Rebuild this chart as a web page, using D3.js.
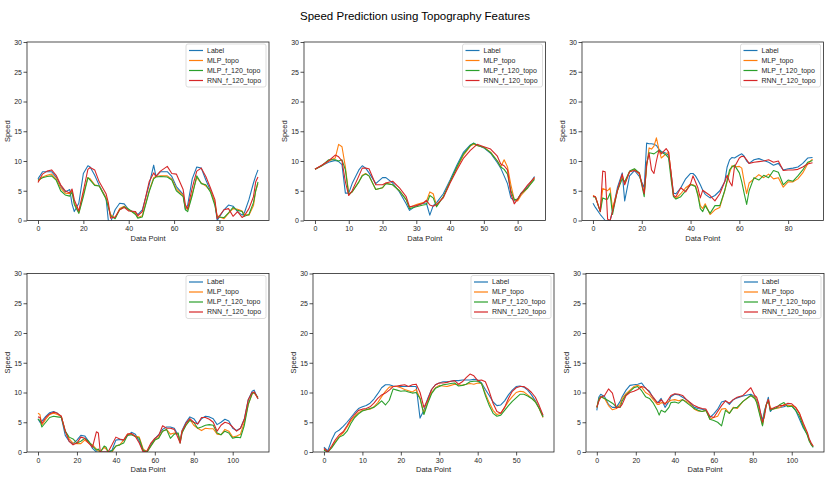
<!DOCTYPE html>
<html>
<head>
<meta charset="utf-8">
<script src="https://cdnjs.cloudflare.com/ajax/libs/d3/7.8.5/d3.min.js"></script>
<style>
  body { margin: 0; background: #fff; }
  text { font-family: "Liberation Sans", Arial, sans-serif; }
</style>
</head>
<body>
<svg id="chart" width="830" height="483"></svg>
<script>
/////// Data

var seriesNames = ['Label', 'MLP_topo', 'MLP_f_120_topo', 'RNN_f_120_topo'];
var yTicks = [0, 5, 10, 15, 20, 25, 30];

// panel 1
var p1X = [0,2,4,6,8,10,12,14,15,16,18,20,22,23,25,27,30,31,32,34,36,38,40,43,44,46,49,51,52,54,57,59,61,64,65,66,68,70,72,74,76,78,79,82,84,86,88,90,91,93,95,96,97];
var p1Label = [7.0,8.2,8.2,8.2,7.3,5.8,4.8,5.2,2.8,1.5,2.9,7.9,9.2,9.0,7.6,5.9,3.8,0.0,-0.3,1.8,2.9,2.8,1.8,1.3,1.0,1.8,6.0,9.3,7.4,8.2,8.2,7.4,5.7,4.4,1.8,2.6,7.0,9.0,8.8,6.8,5.1,2.9,0.0,1.8,2.6,2.4,1.5,0.9,1.3,3.5,6.3,7.5,8.5];
var p1Mlp = [6.6,7.3,7.6,7.8,7.0,5.5,4.6,4.5,5.0,3.0,1.3,4.5,7.2,7.0,6.0,5.8,3.8,2.5,1.0,0.4,2.0,2.4,1.8,1.2,0.5,0.8,5.0,7.2,7.4,7.5,7.5,7.0,5.3,4.2,2.2,1.8,4.5,7.2,6.3,5.8,5.0,3.0,0.8,0.3,1.2,2.0,1.9,1.6,1.0,0.9,2.5,5.0,6.2];
var p1MlpF = [6.8,7.2,7.4,7.5,6.8,5.0,4.3,4.1,4.8,2.7,1.2,4.0,7.2,6.8,5.9,5.8,3.6,2.2,0.8,0.3,1.8,2.3,1.9,1.0,0.4,0.6,4.8,7.0,7.3,7.4,7.3,6.8,5.0,4.0,1.8,1.5,4.2,7.5,6.2,6.0,4.8,2.5,0.6,0.5,1.3,2.2,1.7,1.5,0.7,1.0,3.0,5.0,6.5];
var p1Rnn = [6.4,7.8,8.3,8.5,7.6,6.0,5.0,4.6,5.3,3.5,1.6,5.0,8.6,8.9,8.5,6.5,4.5,3.0,0.4,0.6,1.8,2.2,1.6,1.5,0.8,1.5,6.5,8.0,7.4,8.3,9.1,7.9,7.8,5.2,2.6,2.0,5.5,8.3,8.8,7.4,5.5,3.5,0.3,1.8,2.0,0.7,1.5,0.5,0.8,2.0,4.0,6.5,7.3];

// panel 2
var p2X = [0,2,4,6,7,8,9,10,11,13,14,15,16,18,20,21,23,25,27,28,30,32,33,34,35,36,38,40,42,44,46,47,48,50,52,54,55,56,57,58,59,60,61,63,65];
var p2Label = [8.6,9.2,9.8,10.1,9.9,9.4,4.6,4.6,6.2,8.5,9.2,8.8,8.0,6.2,7.2,7.2,6.3,4.8,2.8,1.7,2.5,2.9,2.9,0.9,2.5,3.0,4.5,6.8,9.3,11.5,12.7,13.0,12.7,12.2,11.3,9.7,8.8,7.5,6.2,3.8,3.3,3.5,4.6,5.7,7.4];
var p2Mlp = [8.6,9.2,10.0,10.5,12.8,12.4,9.0,4.5,4.8,6.5,7.6,7.9,7.5,5.2,5.5,6.3,6.0,5.0,3.5,2.2,2.7,3.0,3.2,4.8,4.5,2.5,4.0,6.5,8.8,11.0,12.5,12.8,12.6,12.3,11.5,10.0,9.0,10.2,9.0,6.0,3.5,3.3,4.2,5.5,7.2];
var p2MlpF = [8.6,9.2,10.2,10.2,10.0,10.2,8.5,4.3,4.8,6.5,7.5,7.8,7.5,5.2,5.5,6.2,6.0,5.0,3.5,2.0,2.3,2.6,2.7,4.2,3.8,2.3,4.0,6.5,9.0,11.2,12.6,13.0,12.6,12.3,11.4,10.0,9.0,8.6,7.8,5.0,3.5,3.6,4.5,5.5,6.9];
var p2Rnn = [8.6,9.3,10.0,11.0,10.7,10.0,6.5,4.2,5.0,7.5,8.8,8.8,8.7,6.0,6.0,6.3,6.6,5.5,4.0,2.3,2.5,2.9,3.4,2.6,2.4,2.7,3.8,6.3,8.5,10.5,11.8,12.3,12.8,12.4,12.0,10.8,9.5,9.2,8.5,4.5,2.8,3.6,4.5,6.0,7.2];

// panel 3
var p3X = [0,1,3,4,5,6,7,8,10,12,13,15,17,19,21,22,23,24,25,26,27,28,30,31,32,33,34,36,38,40,41,42,43,44,45,46,48,50,52,54,55,56,57,58,60,61,62,63,64,66,68,70,72,74,76,78,80,82,84,86,88,90];
var p3Label = [2.9,2.2,1.0,0.5,0.0,0.0,0.0,1.5,5.5,8.0,3.3,7.5,8.4,7.4,5.5,13.0,12.9,12.9,12.8,12.6,12.0,11.6,11.3,10.9,8.0,4.6,4.5,5.5,7.0,7.9,7.9,7.5,6.8,6.0,5.1,4.4,3.8,4.2,5.0,6.5,9.0,10.2,10.6,10.5,11.0,11.2,10.8,10.0,9.6,10.2,10.4,10.1,9.8,9.3,9.6,8.5,8.7,8.8,9.0,9.6,10.5,10.6];
var p3Mlp = [4.2,4.0,1.5,5.4,5.2,5.0,5.5,2.0,5.0,7.5,6.2,8.2,8.6,7.8,4.5,9.0,12.2,12.0,12.5,13.9,12.0,10.5,11.2,11.5,8.0,4.2,3.7,4.5,5.5,6.1,6.0,5.8,4.5,2.5,2.0,2.8,1.0,1.8,2.2,5.0,6.5,8.0,9.2,9.0,9.1,8.8,6.5,4.5,6.3,7.0,7.7,7.2,7.8,7.0,7.2,5.6,6.5,6.5,7.0,8.0,9.5,10.3];
var p3MlpF = [4.0,3.9,1.5,3.8,3.6,3.6,4.6,1.0,5.0,7.0,6.5,8.3,8.7,8.0,4.0,9.5,11.4,11.3,11.2,11.5,11.8,11.5,11.0,10.5,7.0,4.0,3.6,4.0,5.0,6.0,5.9,5.7,4.2,2.0,1.5,2.5,1.2,2.5,2.5,5.0,6.8,8.5,9.0,9.3,8.0,6.5,4.5,2.7,5.0,7.2,6.8,7.6,7.2,8.4,8.1,6.0,6.8,6.6,7.5,8.5,9.8,10.1];
var p3Rnn = [4.1,4.0,1.5,8.3,8.2,0.2,0.0,1.5,5.0,7.8,6.0,8.2,8.4,8.0,4.5,9.5,11.3,8.5,7.9,10.0,11.8,11.2,12.1,11.5,8.0,4.2,4.0,5.5,4.8,6.2,7.5,6.5,5.5,3.8,5.1,4.8,4.2,3.3,4.5,6.5,7.6,6.5,5.8,9.0,10.5,10.8,10.7,10.2,9.6,9.8,9.9,10.0,10.2,9.8,10.0,8.4,8.5,8.5,8.6,9.0,9.5,9.7];

// panel 4
var p4X = [0,1,2,4,6,8,10,12,14,16,18,20,22,24,26,28,30,31,32,34,35,36,38,40,42,44,46,48,50,52,54,56,58,60,62,64,66,68,70,72,73,74,76,78,80,82,84,86,88,90,92,94,96,98,100,102,104,106,108,110,111,113];
var p4Label = [5.6,5.0,5.2,6.0,6.6,6.8,6.5,5.8,2.8,1.8,1.4,2.0,2.8,2.7,1.8,0.6,0.0,0.0,0.0,0.0,0.0,0.0,0.3,2.0,2.1,2.0,2.8,3.3,3.0,1.8,0.2,0.0,1.2,2.2,2.9,3.8,4.2,4.2,4.0,2.8,2.0,3.6,5.0,5.9,5.6,4.7,5.6,6.0,5.9,5.6,4.6,5.0,5.5,5.2,4.0,3.6,4.0,5.6,8.8,10.2,10.4,8.9];
var p4Mlp = [6.5,6.3,4.5,5.5,6.3,6.5,6.3,6.0,3.5,2.2,1.5,1.4,1.4,2.0,1.5,1.2,0.5,0.2,0.0,0.8,0.5,0.0,0.0,1.0,1.2,2.0,3.0,3.0,2.7,2.5,0.5,0.0,1.0,2.0,2.5,3.5,3.8,3.0,3.2,3.0,1.8,3.5,4.5,5.5,4.5,4.0,3.6,4.0,3.9,3.9,3.0,2.9,3.8,3.5,2.5,2.7,3.0,5.0,8.0,9.8,10.0,9.0];
var p4MlpF = [5.5,5.3,4.2,5.0,5.8,6.0,5.9,5.8,3.5,2.5,2.2,1.5,1.8,2.3,1.8,1.0,0.3,0.5,0.0,1.0,0.8,0.0,0.2,1.0,1.2,1.5,2.8,2.9,2.6,2.3,0.3,0.0,1.0,2.0,2.3,3.5,3.8,2.3,3.0,3.2,1.5,3.2,4.5,5.3,5.0,4.0,4.2,4.5,4.6,4.5,3.2,2.9,3.5,3.2,2.3,2.5,2.4,4.5,8.0,9.8,10.0,9.2];
var p4Rnn = [5.9,5.8,4.8,5.8,6.4,6.7,6.5,6.0,3.5,1.8,1.2,1.5,2.5,2.3,1.5,0.8,3.4,3.2,0.0,0.0,0.0,0.0,1.2,2.5,2.2,2.0,3.0,3.1,2.6,1.5,0.0,0.2,1.5,2.3,2.8,4.4,4.0,4.0,3.8,2.3,1.5,3.5,4.8,5.6,5.0,4.7,5.8,5.8,5.5,5.0,3.5,4.5,5.0,4.8,4.2,3.5,4.0,5.5,8.8,10.0,10.1,9.0];

// panel 5
var p5X = [0,1,2,3,4,5,6,7,8,9,10,11,12,13,14,15,16,17,18,19,20,21,22,23,24,25,26,27,28,29,30,31,32,33,34,35,36,37,38,39,40,41,42,43,44,45,46,47,48,49,50,51,52,53,54,55,56,57];
var p5Label = [0.8,0.2,2.0,3.3,3.7,4.3,5.0,5.8,6.6,7.3,7.6,7.8,8.2,8.9,9.8,10.8,11.3,11.3,11.1,11.0,11.0,11.0,11.0,11.0,11.0,5.7,7.0,9.0,10.5,11.3,11.6,11.8,11.8,11.9,12.0,12.0,12.1,12.1,12.1,12.2,12.1,11.6,10.5,9.5,8.4,7.8,7.9,8.6,9.6,10.4,11.0,11.1,10.9,10.4,9.6,8.6,7.4,6.0];
var p5Mlp = [0.5,0.0,0.8,1.8,2.6,3.2,4.2,5.2,6.0,6.6,7.0,7.1,7.2,7.6,8.3,9.3,10.2,10.9,11.0,11.0,10.8,10.5,10.3,10.1,10.5,9.0,6.5,8.5,10.0,10.8,11.2,11.1,11.0,11.2,11.4,11.3,11.2,11.4,11.5,11.4,11.6,11.5,9.8,8.3,7.0,6.3,6.5,7.5,8.5,9.3,10.0,10.2,10.1,9.6,9.1,8.5,7.3,5.8];
var p5MlpF = [0.3,0.0,0.7,1.6,2.5,2.8,3.5,4.8,5.8,6.4,6.9,7.1,7.3,7.5,8.0,8.6,7.9,8.7,10.6,10.4,10.2,10.3,10.1,9.9,10.0,9.0,6.3,8.2,9.8,10.7,11.0,11.3,11.4,11.5,11.6,11.1,11.2,11.4,11.8,11.9,11.9,11.5,9.5,7.8,6.5,6.0,6.2,7.0,7.8,8.5,9.1,9.7,9.7,9.4,9.0,8.4,7.3,5.9];
var p5Rnn = [0.6,0.0,1.0,2.1,2.9,3.4,4.4,5.5,6.3,7.0,7.2,7.3,7.6,8.2,9.0,9.6,9.9,10.4,11.0,11.1,11.2,11.3,11.0,11.3,11.4,10.0,7.5,8.8,10.5,11.3,11.6,11.6,11.7,11.9,12.0,11.4,11.8,12.5,13.1,12.8,12.0,12.1,11.8,10.2,8.2,6.8,6.5,7.5,9.0,10.2,10.8,11.0,11.0,10.6,10.0,9.2,7.8,6.2];

// panel 6
var p6X = [0,1,2,4,6,8,10,12,13,15,17,19,21,23,25,27,29,31,32,33,35,37,38,40,42,44,46,48,50,52,54,56,58,60,62,64,66,68,70,72,75,79,81,82,83,85,86,87,88,89,90,92,94,96,98,100,102,104,106,108,109,110,111];
var p6Label = [7.0,9.2,9.7,9.3,8.0,7.5,7.5,8.5,9.3,10.4,11.2,11.3,11.4,11.6,10.7,10.2,9.0,8.3,8.6,9.0,7.5,8.5,9.3,9.7,9.6,9.2,8.8,8.2,7.5,7.3,7.2,7.0,5.8,6.4,7.2,8.4,8.6,8.0,8.8,9.1,9.4,9.7,9.3,8.7,7.8,5.3,7.0,8.0,9.2,6.8,7.2,7.4,7.5,7.6,7.9,7.8,7.0,5.5,4.0,3.0,2.0,1.3,0.8];
var p6Mlp = [7.5,8.8,9.3,9.0,7.8,7.1,7.3,8.0,9.0,9.8,10.4,11.0,11.2,10.9,10.0,9.6,8.8,8.0,8.0,8.3,8.2,8.5,8.7,8.8,8.6,8.8,8.5,8.0,7.2,6.9,6.8,7.0,5.5,5.8,6.0,7.2,7.3,6.5,7.5,7.3,8.5,9.5,9.2,8.5,7.3,4.5,6.5,8.0,8.8,7.5,7.2,7.3,7.5,8.0,7.8,7.8,7.5,6.5,4.5,3.0,2.0,1.3,0.9];
var p6MlpF = [7.5,8.8,9.3,9.0,8.6,8.2,7.6,7.5,8.6,9.6,10.2,10.8,11.0,10.3,9.3,9.0,8.2,7.0,6.2,7.0,6.7,7.5,8.3,8.4,8.2,8.8,8.3,7.8,7.3,7.0,6.8,7.0,5.5,5.3,5.0,4.4,7.0,6.5,7.4,7.5,8.5,9.5,9.0,8.3,7.0,4.4,6.5,8.0,8.6,7.0,7.2,7.4,8.0,8.3,7.6,7.7,7.0,6.0,4.2,2.8,1.8,1.2,0.8];
var p6Rnn = [7.5,8.5,9.2,9.5,10.6,9.9,7.4,7.6,8.0,9.5,10.0,10.2,10.5,11.0,10.8,10.0,9.2,8.3,8.3,8.8,8.0,9.0,9.5,9.8,9.7,9.5,8.8,8.3,7.8,7.5,7.3,7.2,6.0,5.8,6.8,7.8,8.6,8.2,8.8,9.2,9.5,10.8,9.5,9.2,8.2,5.0,6.0,8.0,8.8,7.2,7.3,7.6,7.8,7.8,8.2,8.1,7.5,6.5,4.8,3.3,2.2,1.5,1.0];

/////// Layout

var colors = ['#1f77b4', '#ff7f0e', '#2ca02c', '#d62728'];
var ink = '#262626';

// [left, top, right, bottom] of each axes box, in pixels
var panels = [
  { x: p1X, ys: [p1Label, p1Mlp, p1MlpF, p1Rnn], box: [27, 42, 269, 220.5], xTicks: [0, 20, 40, 60, 80] },
  { x: p2X, ys: [p2Label, p2Mlp, p2MlpF, p2Rnn], box: [304, 42, 545.5, 220.5], xTicks: [0, 10, 20, 30, 40, 50, 60] },
  { x: p3X, ys: [p3Label, p3Mlp, p3MlpF, p3Rnn], box: [582, 42, 823.5, 220.5], xTicks: [0, 20, 40, 60, 80] },
  { x: p4X, ys: [p4Label, p4Mlp, p4MlpF, p4Rnn], box: [27, 273.5, 269, 452], xTicks: [0, 20, 40, 60, 80, 100] },
  { x: p5X, ys: [p5Label, p5Mlp, p5MlpF, p5Rnn], box: [313, 273.5, 554, 452], xTicks: [0, 10, 20, 30, 40, 50] },
  { x: p6X, ys: [p6Label, p6Mlp, p6MlpF, p6Rnn], box: [586, 273.5, 824, 452], xTicks: [0, 20, 40, 60, 80, 100] }
];

var svg = d3.select('#chart');

svg.append('text')
    .attr('x', 415)
    .attr('y', 19.5)
    .attr('text-anchor', 'middle')
    .attr('font-size', '11.5px')
    .attr('fill', '#000')
    .text('Speed Prediction using Topography Features');

panels.forEach(function (p, i) {
  var l = p.box[0], t = p.box[1], r = p.box[2], b = p.box[3];

  // matplotlib style 5% margin on x
  var ext = d3.extent(p.x);
  var pad = (ext[1] - ext[0]) * 0.05;
  var x = d3.scaleLinear().domain([ext[0] - pad, ext[1] + pad]).range([l, r]);
  var y = d3.scaleLinear().domain([0, 30]).range([b, t]);

  var g = svg.append('g');

  g.append('clipPath')
      .attr('id', 'clip' + i)
    .append('rect')
      .attr('x', l)
      .attr('y', t)
      .attr('width', r - l)
      .attr('height', b - t);

  var line = d3.line()
      .x(function (d) { return x(d[0]); })
      .y(function (d) { return y(d[1]); });

  var lines = g.append('g').attr('clip-path', 'url(#clip' + i + ')');
  p.ys.forEach(function (vals, k) {
    lines.append('path')
        .datum(p.x.map(function (xv, j) { return [xv, vals[j]]; }))
        .attr('d', line)
        .attr('fill', 'none')
        .attr('stroke', colors[k])
        .attr('stroke-width', 1.1)
        .attr('stroke-linejoin', 'round');
  });

  // axes
  var xAxis = g.append('g')
      .attr('transform', 'translate(0,' + b + ')')
      .call(d3.axisBottom(x).tickValues(p.xTicks).tickSize(3.5).tickPadding(2.5).tickSizeOuter(0));
  var yAxis = g.append('g')
      .attr('transform', 'translate(' + l + ',0)')
      .call(d3.axisLeft(y).tickValues(yTicks).tickSize(3.5).tickPadding(1.5).tickSizeOuter(0));

  [xAxis, yAxis].forEach(function (a) {
    a.select('.domain').remove();
    a.selectAll('line').attr('stroke', ink).attr('stroke-width', 0.8);
    a.selectAll('text')
        .attr('font-family', '"Liberation Sans", Arial, sans-serif')
        .attr('font-size', '7px')
        .attr('fill', ink);
  });

  g.append('rect')
      .attr('x', l)
      .attr('y', t)
      .attr('width', r - l)
      .attr('height', b - t)
      .attr('fill', 'none')
      .attr('stroke', ink)
      .attr('stroke-width', 0.8);

  g.append('text')
      .attr('x', (l + r) / 2)
      .attr('y', b + 20)
      .attr('text-anchor', 'middle')
      .attr('font-size', '7.5px')
      .attr('fill', ink)
      .text('Data Point');

  g.append('text')
      .attr('transform', 'translate(' + (l - 17) + ',' + ((t + b) / 2) + ') rotate(-90)')
      .attr('text-anchor', 'middle')
      .attr('font-size', '7.5px')
      .attr('fill', ink)
      .text('Speed');

  // legend
  var lx = r - 83, ly = t + 2;
  var leg = g.append('g');
  leg.append('rect')
      .attr('x', lx)
      .attr('y', ly)
      .attr('width', 80)
      .attr('height', 43)
      .attr('rx', 2)
      .attr('fill', '#fff')
      .attr('fill-opacity', 0.8)
      .attr('stroke', '#d4d4d4')
      .attr('stroke-width', 0.8);

  seriesNames.forEach(function (name, k) {
    var cy = ly + 6.5 + k * 10;
    leg.append('line')
        .attr('x1', lx + 3)
        .attr('x2', lx + 17)
        .attr('y1', cy)
        .attr('y2', cy)
        .attr('stroke', colors[k])
        .attr('stroke-width', 1.2);
    leg.append('text')
        .attr('x', lx + 21)
        .attr('y', cy)
        .attr('dy', '0.35em')
        .attr('font-size', '7px')
        .attr('fill', ink)
        .text(name);
  });
});
</script>
</body>
</html>
